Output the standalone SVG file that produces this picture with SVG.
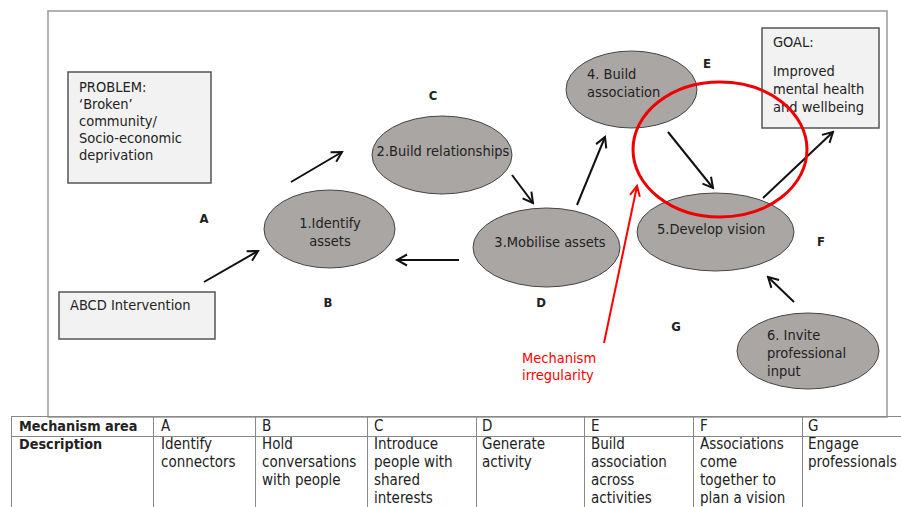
<svg xmlns="http://www.w3.org/2000/svg" width="901" height="507" viewBox="0 0 901 507">
<style>
text{font-family:"DejaVu Sans Condensed","DejaVu Sans",sans-serif;fill:#222;}
.t{font-size:14.5px;}
.lbl{font-size:13px;font-weight:bold;text-anchor:middle;}
.tb{font-size:15px;}
.b{font-weight:bold;font-size:14.3px;}
.box{fill:#f2f2f2;stroke:#555;stroke-width:1.5;}
.node{fill:#aaa6a4;stroke:#444;stroke-width:1;}
.c{stroke:#111;stroke-width:2;fill:none;marker-end:url(#ah);}
.grid{stroke:#888;stroke-width:1;fill:none;}
.red{fill:#f00;}
</style>
<defs>
<marker id="ah" markerUnits="userSpaceOnUse" markerWidth="14" markerHeight="14" viewBox="0 0 14 14" refX="12" refY="7" orient="auto">
<path d="M2,1.5 L12,7 L2,12.5" fill="none" stroke="#111" stroke-width="2"/>
</marker>
<marker id="ahr" markerUnits="userSpaceOnUse" markerWidth="14" markerHeight="14" viewBox="0 0 14 14" refX="12" refY="7" orient="auto">
<path d="M2,2 L12,7 L2,12" fill="none" stroke="#f00" stroke-width="2"/>
</marker>
<clipPath id="clip6"><rect x="730" y="300" width="160" height="80"/></clipPath>
</defs>
<rect x="48" y="11" width="839" height="406" fill="#fff" stroke="#999" stroke-width="1.5"/>

<g id="problem">
<rect class="box" x="68" y="72" width="143" height="111"/>
<text class="t" x="79" y="92">PROBLEM:</text>
<text class="t" x="79" y="109">‘Broken’</text>
<text class="t" x="79" y="126">community/</text>
<text class="t" x="79" y="143">Socio-economic</text>
<text class="t" x="79" y="160">deprivation</text>
</g>
<g id="abcd">
<rect class="box" x="59" y="292" width="156" height="47"/>
<text class="t" x="70" y="310">ABCD Intervention</text>
</g>
<g id="goal">
<rect class="box" x="762" y="28" width="117" height="100"/>
<text class="t" x="773" y="47">GOAL:</text>
<text class="t" x="773" y="76">Improved</text>
<text class="t" x="773" y="94">mental health</text>
<text class="t" x="773" y="112">and wellbeing</text>
</g>
<g id="n1">
<ellipse class="node" cx="329.5" cy="229" rx="65.5" ry="39"/>
<text class="t" x="330" y="228" text-anchor="middle">1.Identify</text>
<text class="t" x="330" y="246" text-anchor="middle">assets</text>
</g>
<g id="n2">
<ellipse class="node" cx="442" cy="155" rx="70" ry="39"/>
<text class="t" x="443" y="156" text-anchor="middle">2.Build relationships</text>
</g>
<g id="n3">
<ellipse class="node" cx="546.5" cy="247.5" rx="73.5" ry="39.5"/>
<text class="t" x="550" y="247" text-anchor="middle">3.Mobilise assets</text>
</g>
<g id="n4">
<ellipse class="node" cx="631.5" cy="89.5" rx="65.5" ry="38.5"/>
<text class="t" x="587" y="79">4. Build</text>
<text class="t" x="587" y="97">association</text>
</g>
<g id="n5">
<ellipse class="node" cx="715.5" cy="232" rx="78.5" ry="39"/>
<text class="t" x="657" y="234">5.Develop vision</text>
</g>
<g id="n6">
<ellipse class="node" cx="808" cy="351" rx="71" ry="38"/>
<g clip-path="url(#clip6)">
<text class="t" x="767" y="340">6. Invite</text>
<text class="t" x="767" y="358">professional</text>
<text class="t" x="767" y="376">input</text>
</g>
</g>

<g id="connectors">
<line class="c" x1="204" y1="282" x2="258" y2="251"/>
<line class="c" x1="291" y1="182" x2="342" y2="152"/>
<line class="c" x1="512" y1="175" x2="533" y2="203"/>
<line class="c" x1="459" y1="260" x2="397" y2="260"/>
<line class="c" x1="577" y1="205" x2="605" y2="137"/>
<line class="c" x1="668" y1="132" x2="713" y2="188"/>
<line class="c" x1="763" y1="198" x2="833" y2="132"/>
<line class="c" x1="794" y1="302" x2="768" y2="277"/>
<line x1="604" y1="343" x2="637" y2="186" stroke="#f00" stroke-width="2" marker-end="url(#ahr)"/>
</g>

<g id="irregularity">
<ellipse cx="720" cy="149.5" rx="87" ry="67.5" fill="none" stroke="#e00" stroke-width="3"/>
<text class="t red" x="522" y="363">Mechanism</text>
<text class="t red" x="522" y="380">irregularity</text>
</g>

<g id="labels">
<text class="lbl" x="204" y="223">A</text>
<text class="lbl" x="328" y="307">B</text>
<text class="lbl" x="433" y="100">C</text>
<text class="lbl" x="541" y="307">D</text>
<text class="lbl" x="707" y="68">E</text>
<text class="lbl" x="821" y="246">F</text>
<text class="lbl" x="676" y="331">G</text>
</g>

<g id="table">
<path class="grid" d="M11,416.5 H901 M11,436.5 H901 M11.5,416 V507 M153.5,416 V507 M255.5,416 V507 M367.5,416 V507 M476.5,416 V507 M584.5,416 V507 M693.5,416 V507 M802.5,416 V507"/>
<text class="tb b" x="19" y="431">Mechanism area</text>
<text class="tb b" x="19" y="449">Description</text>
<text class="tb" x="161" y="431">A</text>
<text class="tb" x="262" y="431">B</text>
<text class="tb" x="374" y="431">C</text>
<text class="tb" x="482" y="431">D</text>
<text class="tb" x="591" y="431">E</text>
<text class="tb" x="700" y="431">F</text>
<text class="tb" x="808" y="431">G</text>
<text class="tb" x="161" y="449">Identify</text>
<text class="tb" x="161" y="467">connectors</text>
<text class="tb" x="262" y="449">Hold</text>
<text class="tb" x="262" y="467">conversations</text>
<text class="tb" x="262" y="485">with people</text>
<text class="tb" x="374" y="449">Introduce</text>
<text class="tb" x="374" y="467">people with</text>
<text class="tb" x="374" y="485">shared</text>
<text class="tb" x="374" y="503">interests</text>
<text class="tb" x="482" y="449">Generate</text>
<text class="tb" x="482" y="467">activity</text>
<text class="tb" x="591" y="449">Build</text>
<text class="tb" x="591" y="467">association</text>
<text class="tb" x="591" y="485">across</text>
<text class="tb" x="591" y="503">activities</text>
<text class="tb" x="700" y="449">Associations</text>
<text class="tb" x="700" y="467">come</text>
<text class="tb" x="700" y="485">together to</text>
<text class="tb" x="700" y="503">plan a vision</text>
<text class="tb" x="808" y="449">Engage</text>
<text class="tb" x="808" y="467">professionals</text>
</g>
</svg>
